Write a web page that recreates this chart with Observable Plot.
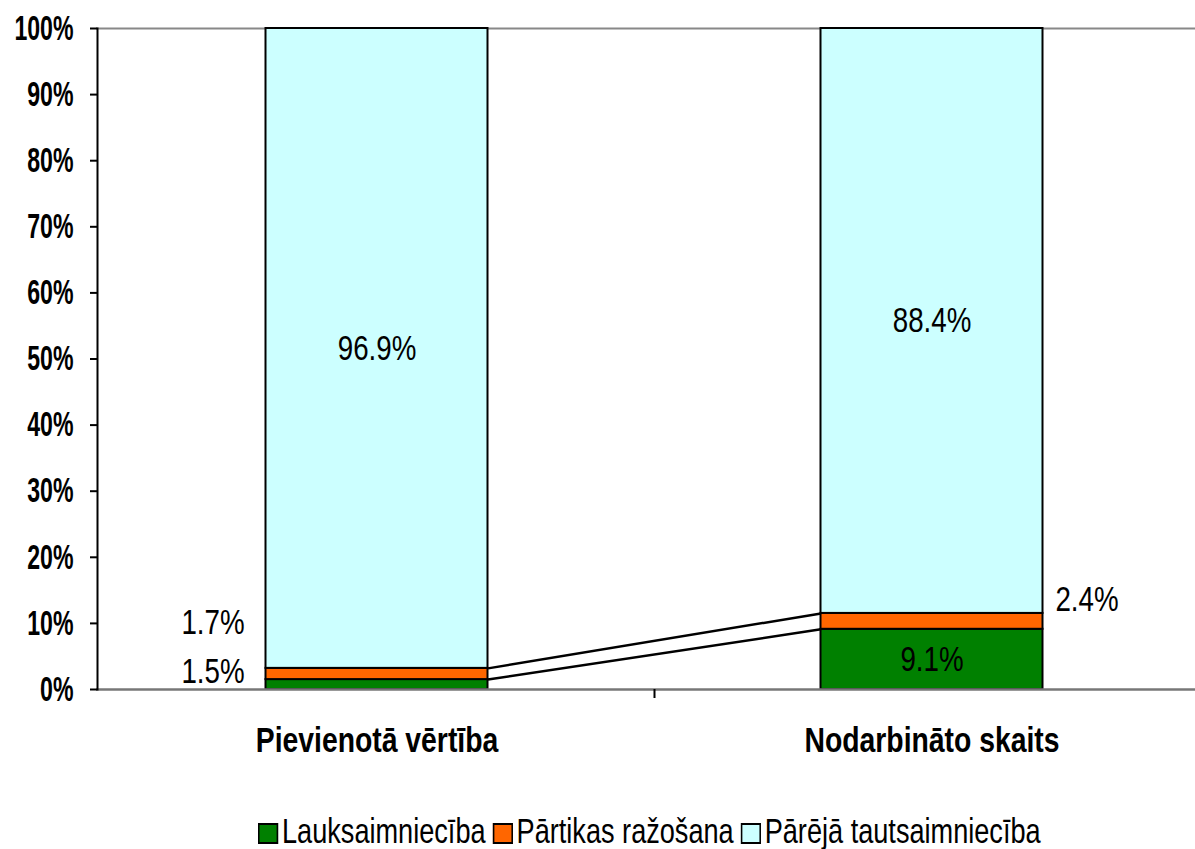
<!DOCTYPE html>
<html><head><meta charset="utf-8">
<script src="https://cdn.jsdelivr.net/npm/d3@7"></script>
<script src="https://cdn.jsdelivr.net/npm/@observablehq/plot@0.6"></script>
<style>
html,body{margin:0;padding:0;background:#fff;overflow:hidden;}
body{font-family:"Liberation Sans",Arial,sans-serif;}
#legend{position:absolute;left:258px;top:813px;display:flex;align-items:center;font-size:35px;line-height:1;color:#000;white-space:nowrap;transform:scaleX(0.775);transform-origin:0 0;}
#legend .item{display:flex;align-items:center;margin-right:9px;}
#legend .sw{box-sizing:border-box;width:26px;height:21px;border:2px solid #000;border-left-width:2.5px;border-right-width:2.5px;margin-right:5px;position:relative;top:3px;}
</style></head><body>
<div id="chart"></div>
<div id="legend"></div>
<script>
// ---- data ----
const categories = ["Pievienotā vērtība", "Nodarbināto skaits"];
const seriesNames = ["Lauksaimniecība", "Pārtikas ražošana", "Pārējā tautsaimniecība"];
const lauksaimnieciba = [1.5, 9.1];
const partikasRazosana = [1.7, 2.4];
const parejaTautsaimnieciba = [96.9, 88.4];
const yTickValues = [0, 10, 20, 30, 40, 50, 60, 70, 80, 90, 100];

// ---- styles ----
const colors = ["#008000", "#FF6600", "#CCFFFF"];
const halfBar = 0.2;
// label offsets (px) per [series][category]: null = centered in segment
const labelOffsets = [
  [[-164, -13], null],
  [[-164, -52], [155, -22]],
  [null, null]
];

const seriesValues = [lauksaimnieciba, partikasRazosana, parejaTautsaimnieciba];
const rows = [];
categories.forEach((cat, i) => {
  const total = seriesValues.reduce((s, arr) => s + arr[i], 0);
  let cum = 0;
  seriesValues.forEach((arr, s) => {
    const y1 = cum / total;
    cum += arr[i];
    const y2 = cum / total;
    rows.push({cat, idx: i, s, series: seriesNames[s], value: arr[i], y1, y2, off: labelOffsets[s][i]});
  });
});
const segTop = (s, i) => rows.find(r => r.s === s && r.idx === i).y2;
const links = [0, 1].map(s => ({x1: 0 + halfBar, x2: 1 - halfBar, y1: segTop(s, 0), y2: segTop(s, 1)}));

const font = '"Liberation Sans",Arial,sans-serif';

const chart = Plot.plot({
  width: 1195,
  height: 790,
  marginLeft: 97,
  marginTop: 28,
  marginBottom: 101,
  marginRight: 0,
  style: {fontFamily: font, background: "#fff", overflow: "hidden"},
  x: {domain: [-0.5, 1.5], range: [99, 1209], axis: null},
  y: {domain: [0, 1], axis: null},
  marks: [
    Plot.frame({anchor: "top", stroke: "#888", strokeWidth: 2}),
    Plot.rect(rows, {
      x1: d => d.idx - halfBar, x2: d => d.idx + halfBar, y1: "y1", y2: "y2",
      fill: d => colors[d.s], stroke: "#000", strokeWidth: 2
    }),
    Plot.link(links, {x1: "x1", x2: "x2", y1: "y1", y2: "y2", stroke: "#000", strokeWidth: 2.5}),
    Plot.frame({anchor: "bottom", stroke: "#777", strokeWidth: 2.5}),
    Plot.frame({anchor: "left", stroke: "#000", strokeWidth: 2}),
    Plot.axisY({ticks: yTickValues.map(v => v / 100), tickFormat: d => Math.round(d * 100) + "%",
      tickSize: 7, tickPadding: 17, fontSize: 35, fontWeight: "bold", stroke: "#000", strokeWidth: 2, fill: "#000"}),
    Plot.axisX({ticks: [0.5, 1.5], tickFormat: () => "", tickSize: 9, stroke: "#000", strokeWidth: 2}),
    Plot.axisX({ticks: [0, 1], tickFormat: i => categories[i], tickSize: 0, tickPadding: 38,
      fontSize: 35, fontWeight: "bold", fill: "#000"}),
    ...rows.map(r => Plot.text([r], {
      x: d => d.idx, y: d => (d.y1 + d.y2) / 2,
      text: d => d.value.toFixed(1) + "%",
      dx: r.off ? r.off[0] : 0, dy: r.off ? r.off[1] : 0,
      fontSize: 36, fill: "#000"
    }))
  ]
});
document.getElementById("chart").appendChild(chart);

// horizontal condensing of the text, as in the reference
function condense(selector, k) {
  chart.querySelectorAll(selector).forEach(t => {
    const tr = t.getAttribute("transform") || "";
    t.setAttribute("transform", tr + ` scale(${k},1)`);
  });
}
condense('g[aria-label="y-axis tick label"] text', 0.66);
condense('g[aria-label="x-axis tick label"] text', 0.81);
condense('g[aria-label="text"] text', 0.77);

const legend = document.getElementById("legend");
seriesNames.forEach((name, s) => {
  const item = document.createElement("div");
  item.className = "item";
  const sw = document.createElement("div");
  sw.className = "sw";
  sw.style.background = colors[s];
  const t = document.createElement("span");
  t.textContent = name;
  item.appendChild(sw); item.appendChild(t);
  legend.appendChild(item);
});
</script>
</body></html>
